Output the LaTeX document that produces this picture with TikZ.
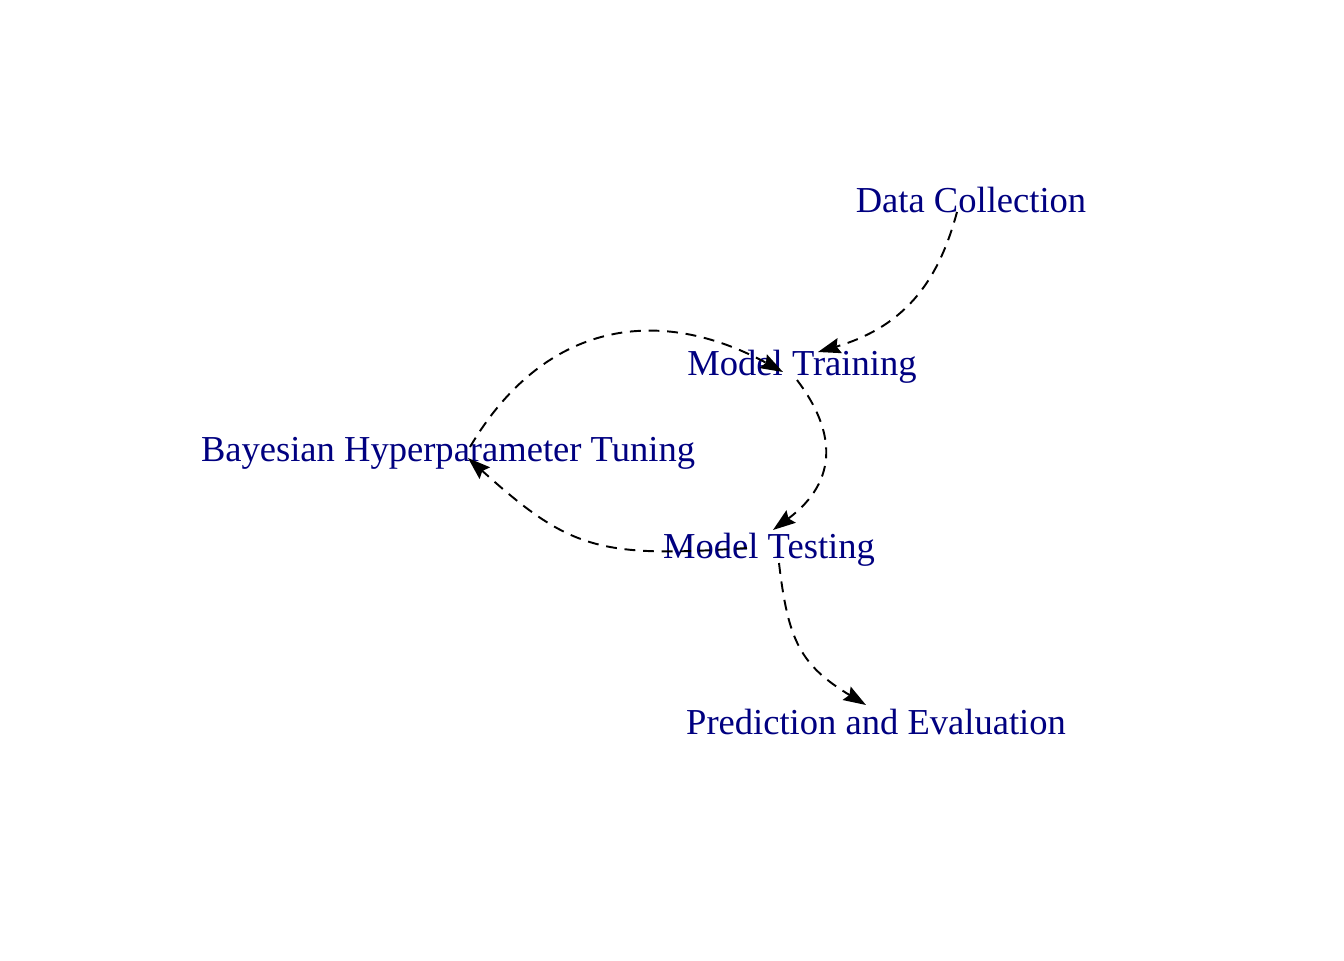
\documentclass[tikz,border=0pt]{standalone}
\usepackage{fontspec}
\setmainfont{Liberation Serif}
\usepackage{tikz}
\usetikzlibrary {calc,arrows.meta}
\definecolor{navy}{RGB}{0,0,128}

\begin{document}
\begin{tikzpicture}[stage/.style={text=step,anchor=base,inner sep=0pt,font=\fontsize{10.4}{12}\selectfont},
  flow/.style={line width=0.55pt,dash pattern=on 3.1pt off 2.2pt,-{Stealth[length=6.4pt,width=4.4pt,inset=0.9pt]}}]
\colorlet{step}{navy}
\useasboundingbox (0,0) rectangle (13.44,9.6);
\node [stage] (data) at (9.71,7.48) {Data Collection};
\node [stage] (train) at (8.02,5.85) {Model Training};
\node [stage] (tune) at (4.48,4.99) {Bayesian Hyperparameter Tuning};
\node [stage] (test) at (7.69,4.02) {Model Testing};
\node [stage] (eval) at (8.76,2.26) {Prediction and Evaluation};
\draw [flow] ($ (data.base)+(-0.14,0) $) .. controls (9.40,6.85) and (9.10,6.35) .. ($ (train.base)+(0.16,0.23) $);
\draw [flow] ($ (train.base)+(-0.05,-0.05) $) .. controls (8.35,5.30) and (8.40,4.80) .. ($ (test.base)+(0.04,0.28) $);
\draw [flow] ($ (test.base)+(-0.22,0.10) $) .. controls (6.00,4.02) and (5.70,4.10) .. ($ (tune.base)+(0.20,0.03) $);
\draw [flow] ($ (tune.base)+(0.22,0.14) $) .. controls (5.45,6.40) and (6.60,6.55) .. ($ (train.base)+(-0.19,0.03) $);
\draw [flow] ($ (test.base)+(0.10,-0.05) $) .. controls (7.88,3.20) and (8.00,2.95) .. ($ (eval.base)+(-0.10,0.29) $);
%\draw [help lines] (0,0) grid (13,9);
\end{tikzpicture}
\end{document}
